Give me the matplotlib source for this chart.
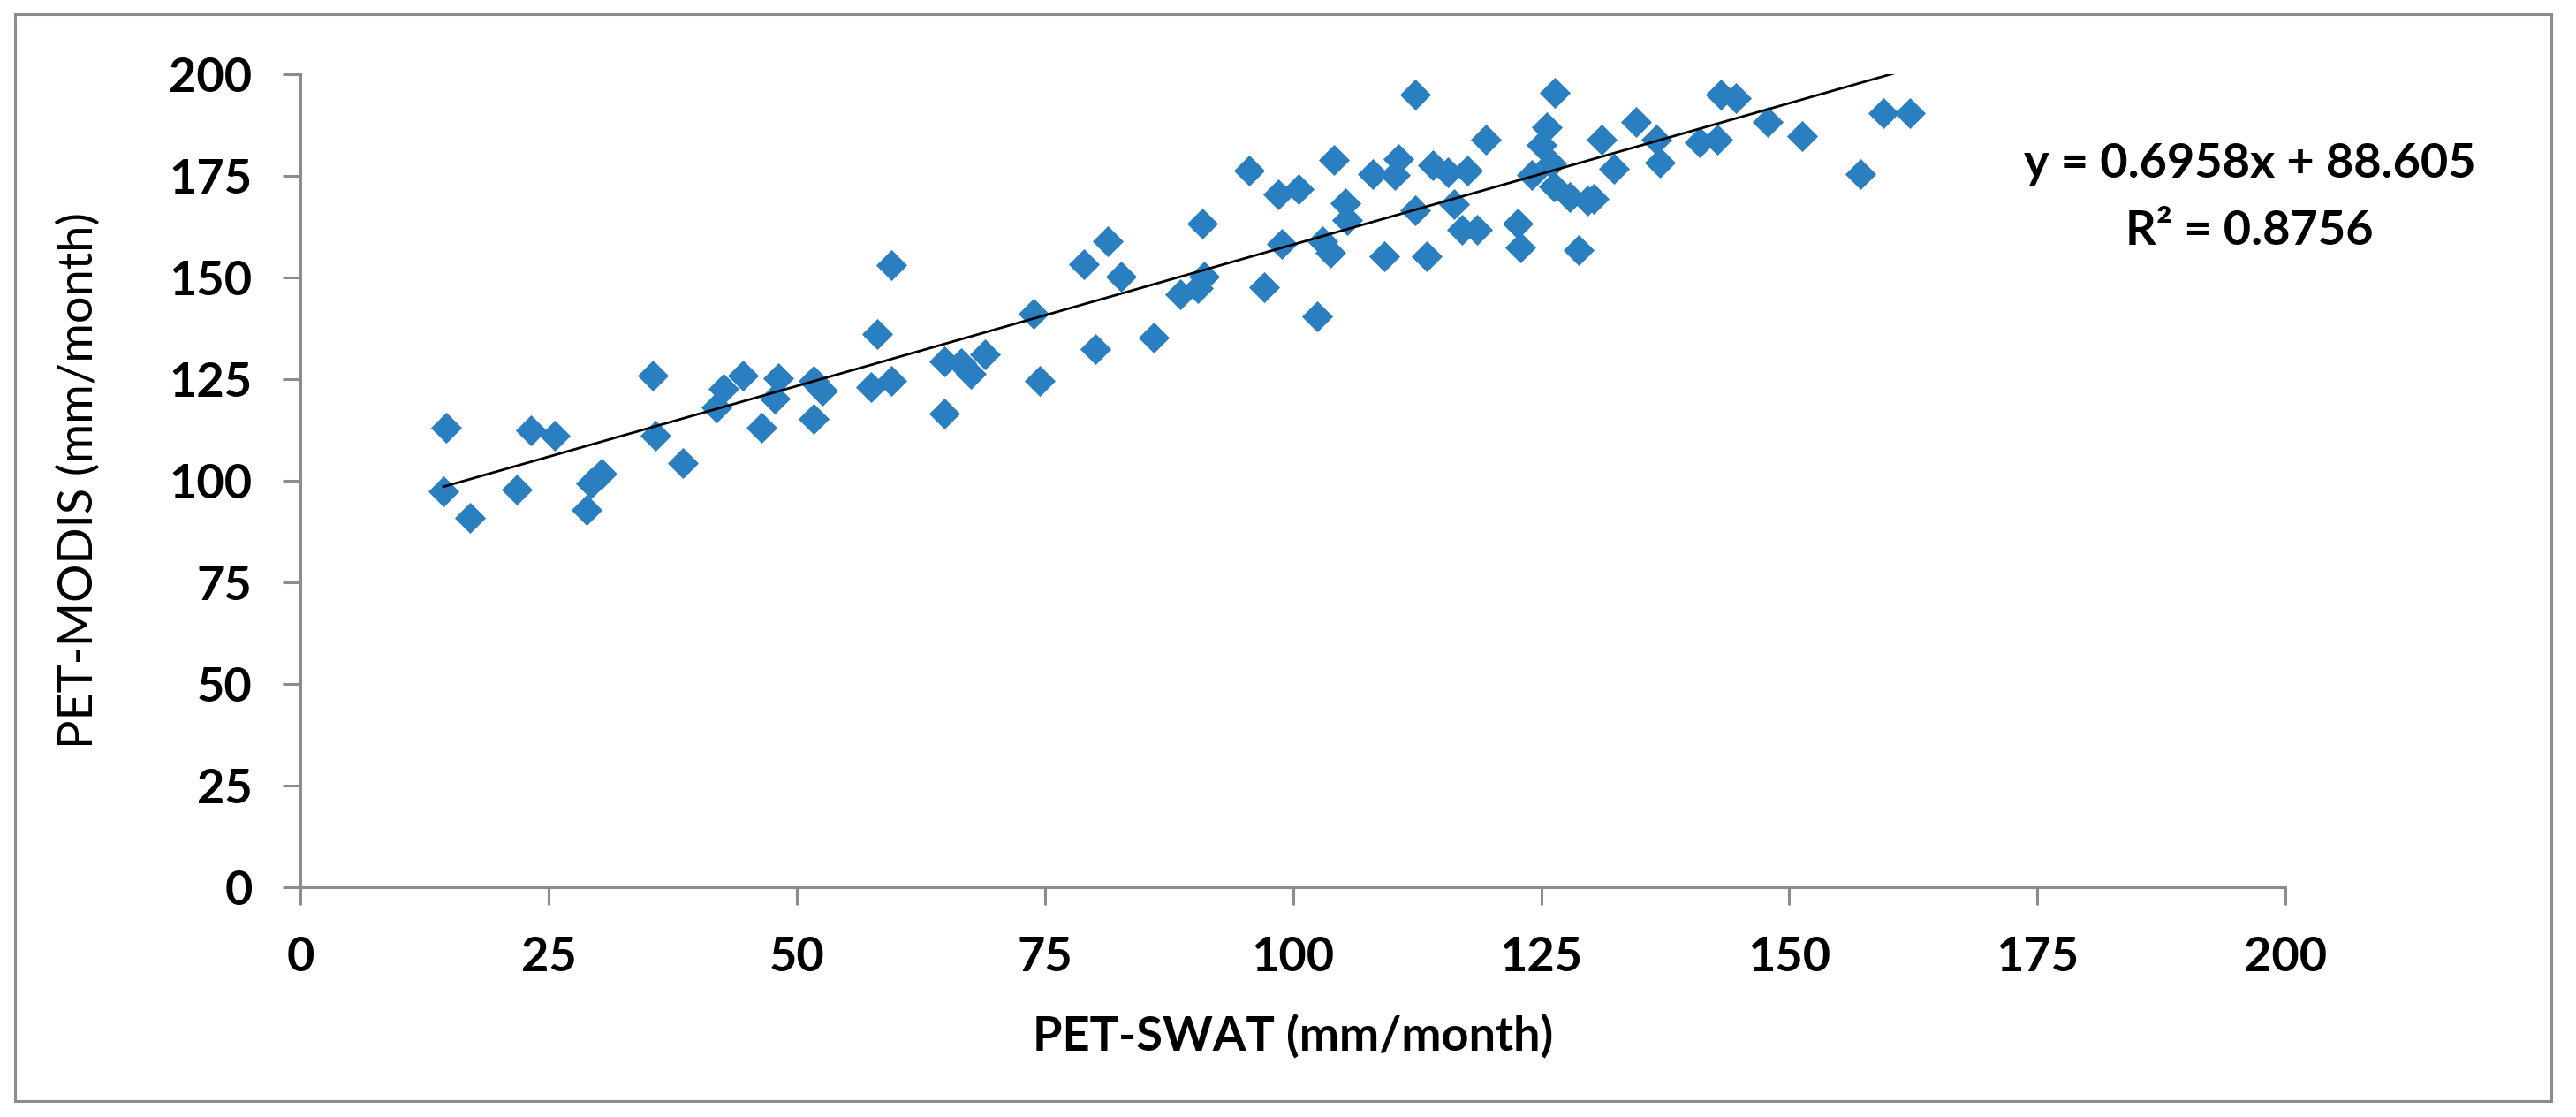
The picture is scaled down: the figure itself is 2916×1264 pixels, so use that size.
import matplotlib
matplotlib.use('Agg')
import matplotlib.pyplot as plt
from matplotlib.patches import Rectangle
import numpy as np

plt.rcParams['font.family'] = ['Lato', 'DejaVu Sans']

# values (mm/month)
pet_swat = [
    14.7, 14.4, 17.1, 21.8, 23.2, 25.6, 28.8, 29.3, 30.3, 35.5,
    35.8, 38.5, 41.9, 42.6, 44.6, 46.4, 48.1, 47.8, 51.7, 52.6,
    51.7, 57.5, 59.5, 58.1, 59.5,
    64.9, 64.9, 66.6, 67.5, 69.0, 73.9, 74.5, 78.9, 80.1, 81.3,
    82.7, 86.0, 88.6, 90.4, 91.0, 90.9, 95.6, 97.1, 98.5, 98.9,
    100.6, 102.4, 103.0, 103.8, 104.1, 105.3, 105.5,
    108.0, 110.6, 110.3, 112.3, 112.3, 109.2, 113.5, 114.1, 115.6, 117.6,
    116.2, 117.0, 118.5, 119.4, 122.6, 122.9, 124.1, 125.0, 125.6, 126.4,
    126.0, 126.3, 127.9, 129.7, 130.3, 128.8, 131.1, 132.3, 134.6, 136.6,
    137.0, 141.0, 142.8, 143.1, 144.6, 147.8, 151.3,
    157.2, 159.5, 162.2,
]
pet_modis = [
    113.2, 97.4, 90.9, 98.0, 112.4, 111.1, 92.9, 99.5, 101.8, 126.0,
    111.1, 104.5, 118.1, 122.7, 126.0, 113.2, 125.3, 120.3, 124.6, 122.3,
    115.2, 123.1, 124.6, 136.1, 153.2,
    129.5, 116.7, 129.1, 126.5, 131.1, 141.2, 124.6, 153.3, 132.5, 159.0,
    150.4, 135.4, 145.9, 147.4, 150.4, 163.3, 176.3, 147.6, 170.5, 158.3,
    171.9, 140.5, 159.0, 156.2, 179.1, 168.4, 164.3,
    175.5, 179.2, 175.3, 195.0, 166.7, 155.3, 155.3, 177.6, 175.9, 176.3,
    168.2, 161.9, 161.9, 184.1, 163.3, 157.5, 175.3, 182.6, 187.0, 195.6,
    178.1, 172.5, 169.9, 168.9, 169.5, 156.8, 184.1, 176.9, 188.4, 184.1,
    178.3, 183.4, 184.1, 195.0, 194.2, 188.4, 184.9,
    175.5, 190.5, 190.5,
]

# linear trendline as printed on the chart
slope = 0.6958
intercept = 88.605
r_squared = 0.8756

axis_ticks = [0, 25, 50, 75, 100, 125, 150, 175, 200]

grey = '#8C8C8C'
blue = '#2A7FC1'

fig = plt.figure(figsize=(14.58, 6.32), dpi=200)
ax = fig.add_axes([0.1167, 0.2054, 0.7705, 0.7278])

ax.scatter(pet_swat, pet_modis, marker='D', s=80, color=blue,
           linewidths=0, zorder=3)

xs = np.array([min(pet_swat), max(pet_swat)])
ax.plot(xs, slope * xs + intercept, color='black', linewidth=1.0, zorder=4)

ax.set_xlim(0, 200)
ax.set_ylim(0, 200)
ax.set_xticks(axis_ticks)
ax.set_yticks(axis_ticks)

for side in ['top', 'right']:
    ax.spines[side].set_visible(False)
for side in ['left', 'bottom']:
    ax.spines[side].set_color(grey)
    ax.spines[side].set_linewidth(1.1)

ax.tick_params(direction='out', length=7.2, width=1.1, color=grey,
               labelsize=19.5, pad=12.5)
for lbl in ax.get_xticklabels() + ax.get_yticklabels():
    lbl.set_fontweight('bold')

# trendline equation
ax.text(196.4, 174.7, f'y = {slope}x + {intercept}', ha='center',
        va='baseline', fontsize=19.5, fontweight='bold', clip_on=False)
ax.text(196.4, 158.2, f'R\u00b2 = {r_squared}', ha='center',
        va='baseline', fontsize=19.5, fontweight='bold', clip_on=False)

fig.text(1463.5 / 2916, 1 - 1172 / 1264, 'PET-SWAT (mm/month)',
         ha='center', va='center', fontsize=19.5, fontweight='bold')
fig.text(89 / 2916, 1 - 544 / 1264, 'PET-MODIS (mm/month)',
         ha='center', va='center', rotation=90, fontsize=19.5)

# chart area border
fig.patches.append(Rectangle((17 / 2916, 1 - 1246 / 1264),
                             (2888 - 17) / 2916, (1246 - 16) / 1264,
                             transform=fig.transFigure, fill=False,
                             edgecolor=grey, linewidth=1.1))

fig.savefig('out.png', dpi=200)
